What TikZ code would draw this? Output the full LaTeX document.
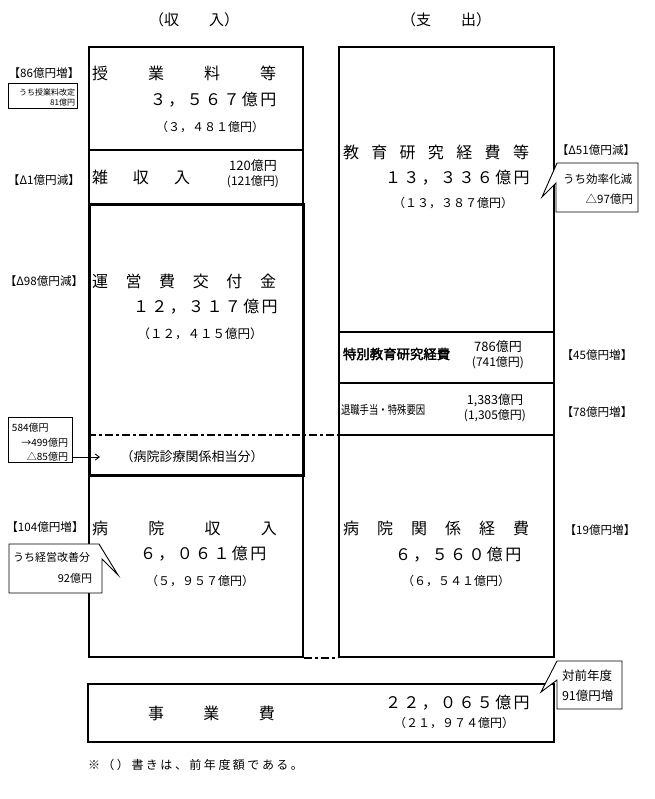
\documentclass[tikz,border=0pt]{standalone}
\usepackage{fontspec}
\setmainfont{Noto Sans CJK JP}
\newfontfamily\jpbold{Noto Sans CJK JP}[FakeBold=2.5]
\usetikzlibrary{arrows.meta}
\newcommand\spr[2]{\makebox[#1pt][s]{#2}}
\newcommand\fs[1]{\fontsize{#1}{#1}\selectfont}
\begin{document}
\begin{tikzpicture}[x=1pt,y=-1pt,
  colbox/.style={draw, line width=2pt, inner sep=0pt, anchor=north west},
  heavybox/.style={draw, line width=3pt, inner sep=0pt, anchor=north west},
  thinbox/.style={draw, line width=0.9pt, inner sep=0pt, anchor=north west, fill=white},
  rowline/.style={line width=2pt},
  ddline/.style={line width=2pt, dash pattern=on 8pt off 3pt on 3pt off 3pt},
  thinline/.style={line width=0.9pt},
  lbl/.style={inner sep=0pt, outer sep=0pt},
  big/.style={lbl, font=\fs{16}},
  mid/.style={lbl, font=\fs{13}},
  sml/.style={lbl, font=\fs{12}},
  hdr/.style={lbl, font=\fs{15}},
  tag/.style={lbl, font=\fs{11.6}},
  ann/.style={lbl, font=\fs{10}},
]
\useasboundingbox (0,0) rectangle (654,799);

% headers
\node[hdr] (hin) at (194,20) {（収　　入）};
\node[hdr] (hout) at (446,20) {（支　　出）};

% left column
\node[colbox, minimum width=214pt, minimum height=610pt] (lcol) at (88,46) {};
\coordinate (l150) at (88,150);
\draw[rowline] (l150) -- (lcol.east |- l150);
\node[heavybox, minimum width=214pt, minimum height=271pt] (unei) at (88,203) {};

% right column
\node[colbox, minimum width=215pt, minimum height=610pt] (rcol) at (338,46) {};
\coordinate (r332) at (338,332);
\coordinate (r383) at (338,383);
\coordinate (r435) at (338,435);
\draw[rowline] (r332) -- (rcol.east |- r332);
\draw[rowline] (r383) -- (rcol.east |- r383);
\draw[rowline] (r435) -- (rcol.east |- r435);

% dash-dot connectors
\coordinate (l435) at (88,435);
\draw[ddline] (l435) -- (r435);
\draw[ddline] (lcol.south east) -- (rcol.south west);

% bottom box
\node[colbox, minimum width=466pt, minimum height=58pt] (jig) at (87,683) {};

% ---- left texts
\node[big, anchor=west] (t1) at (92,73) {\spr{184}{授 業 料 等}};
\node[big, anchor=east] (t1a) at (276,100) {\spr{126}{３ ， ５ ６ ７ 億 円}};
\node[sml] (t1p) at (210,127) {（３，４８１億円）};
\node[big, anchor=west] (t2) at (92,177) {\spr{98}{雑 収 入}};
\node[mid] (t2a) at (253,166) {120億円};
\node[sml] (t2p) at (253,182) {(121億円)};
\node[big, anchor=west] (t3) at (92,281) {\spr{184}{運 営 費 交 付 金}};
\node[big, anchor=east] (t3a) at (276,307) {\spr{143}{１ ２ ， ３ １ ７ 億 円}};
\node[lbl, font=\fs{12.5}] (t3p) at (200,334) {（１２，４１５億円）};
\node[mid] (t3s) at (192,457) {（病院診療関係相当分）};
\node[big, anchor=west] (t4) at (92,528) {\spr{185}{病 院 収 入}};
\node[big, anchor=east] (t4a) at (264,554) {\spr{124}{６ ， ０ ６ １ 億 円}};
\node[sml] (t4p) at (200,581) {（５，９５７億円）};

% ---- right texts
\node[big, anchor=west] (s1) at (343,152) {\spr{186}{教 育 研 究 経 費 等}};
\node[big, anchor=east] (s1a) at (527,178) {\spr{142}{１ ３ ， ３ ３ ６ 億 円}};
\node[sml] (s1p) at (453,203) {（１３，３８７億円）};
\node[lbl, font=\fs{13.4}\jpbold, anchor=west] (s2) at (343,354) {特別教育研究経費};
\node[mid] (s2a) at (498,347) {786億円};
\node[sml] (s2p) at (498,363) {(741億円)};
\node[lbl, font=\fs{12}, anchor=west] (s3) at (341,410) {\scalebox{0.78}[1]{退職手当・特殊要因}};
\node[lbl, font=\fs{12.5}] (s3a) at (495,400) {1,383億円};
\node[sml] (s3p) at (495,416) {(1,305億円)};
\node[big, anchor=west] (s4) at (343,528) {\spr{186}{病 院 関 係 経 費}};
\node[big, anchor=east] (s4a) at (518,555) {\spr{123}{６ ， ５ ６ ０ 億 円}};
\node[sml] (s4p) at (456,581) {（６，５４１億円）};

% ---- bottom texts
\node[big, anchor=west] (b1) at (148,713) {\spr{127}{事 業 費}};
\node[big, anchor=east] (b1a) at (527,703) {\spr{142}{２ ２ ， ０ ６ ５ 億 円}};
\node[sml] (b1p) at (454,723) {（２１，９７４億円）};
\node[sml, anchor=west] (note) at (88,765) {\spr{215}{※ （ ） 書 き は 、 前 年 度 額 で あ る 。}};

% ---- tags
\node[tag] (g1) at (44,73) {【86億円増】};
\node[tag] (g2) at (44,180) {【Δ1億円減】};
\node[tag] (g3) at (44,281) {【Δ98億円減】};
\node[tag] (g4) at (45,527) {【104億円増】};
\node[tag] (g5) at (596,150) {【Δ51億円減】};
\node[tag] (g6) at (597,355) {【45億円増】};
\node[tag] (g7) at (597,412) {【78億円増】};
\node[tag] (g8) at (600,530) {【19億円増】};

% ---- annotation box: tuition
\node[thinbox, minimum width=69pt, minimum height=25pt] (a1) at (8,83) {};
\node[lbl, font=\fs{8}, anchor=east] (a1t) at (75,92) {うち授業料改定};
\node[lbl, font=\fs{8}, anchor=east] (a1u) at (75,102) {81億円};

% ---- annotation box: 584
\node[thinbox, minimum width=64pt, minimum height=45pt] (a2) at (8,417) {};
\node[ann, anchor=west] (a2t) at (12,428) {584億円};
\node[ann, anchor=east] (a2u) at (68,443) {→499億円};
\node[ann, anchor=east] (a2v) at (68,457) {△85億円};
\coordinate (arr) at (100,457);
\draw[thinline, -{Straight Barb[length=4pt,width=6pt]}] (a2.east |- arr) -- (arr);

% ---- callout: 経営改善分
\coordinate (c1tip) at (118,575);
\draw[thinline, fill=white] (9,544) -- (99,544) -- (c1tip) -- (102,559) -- (102,593) -- (9,593) -- cycle;
\node[lbl, font=\fs{11}, anchor=west] (c1t) at (13,557) {うち経営改善分};
\node[lbl, font=\fs{11}, anchor=east] (c1u) at (92,578) {92億円};

% ---- callout: 効率化減
\coordinate (c2tip) at (542,197);
\draw[thinline, fill=white] (557,163) -- (c2tip) -- (556,183) -- (556,212) -- (638,212) -- (638,163) -- cycle;
\node[lbl, font=\fs{11.5}, anchor=west] (c2t) at (563,179) {うち効率化減};
\node[lbl, font=\fs{11.5}, anchor=east] (c2u) at (633,199) {△97億円};

% ---- callout: 対前年度
\coordinate (c3tip) at (541,692);
\draw[thinline, fill=white] (557,661) -- (c3tip) -- (557,680) -- (557,709) -- (622,709) -- (622,661) -- cycle;
\node[lbl, font=\fs{12.5}, anchor=west] (c3t) at (562,676) {対前年度};
\node[lbl, font=\fs{12.5}, anchor=west] (c3u) at (562,696) {91億円増};
\end{tikzpicture}
\end{document}
